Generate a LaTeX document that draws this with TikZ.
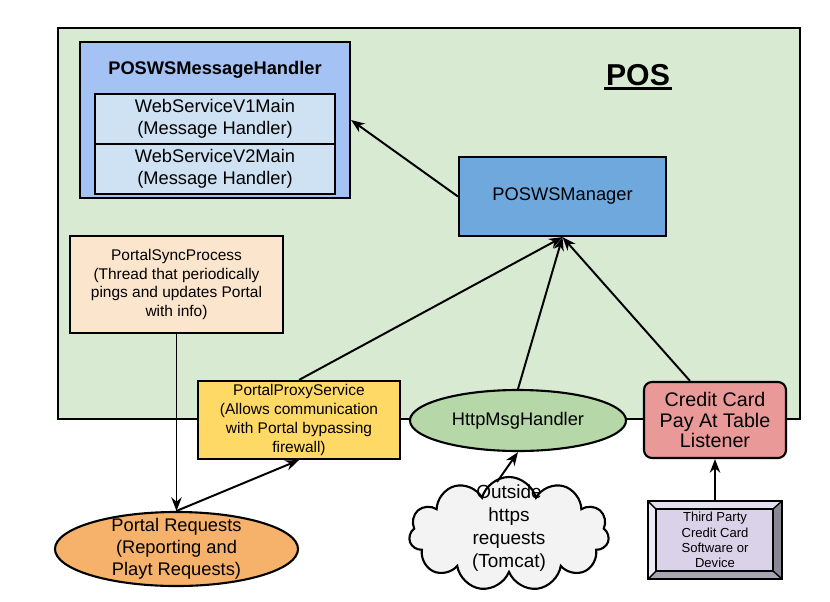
\documentclass[tikz,border=0pt]{standalone}
\usepackage{fontspec}
\setmainfont{Liberation Sans}
\usetikzlibrary{shapes.geometric, shapes.symbols, arrows.meta, positioning, calc}

\definecolor{posgreen}{HTML}{D9EAD3}
\definecolor{msgblue}{HTML}{A4C2F4}
\definecolor{innerblue}{HTML}{CFE2F3}
\definecolor{mgrblue}{HTML}{6FA8DC}
\definecolor{syncpeach}{HTML}{FCE5CD}
\definecolor{proxyyellow}{HTML}{FFD966}
\definecolor{httpgreen}{HTML}{B6D7A8}
\definecolor{ccred}{HTML}{EA9999}
\definecolor{reqorange}{HTML}{F6B26B}
\definecolor{cloudgray}{HTML}{F3F3F3}
\definecolor{thirdlav}{HTML}{D9D2E9}
\definecolor{bevtop}{HTML}{E4E0EF}
\definecolor{bevleft}{HTML}{ECEAF2}
\definecolor{bevright}{HTML}{8A8794}
\definecolor{bevbottom}{HTML}{A8A5B3}

\tikzset{
  box/.style={draw, line width=1.5pt, align=center, inner sep=1pt},
  conn/.style={-{Stealth[length=0.34cm, width=0.26cm]}, line width=1.4pt},
  txt/.style={align=center, font=\fontsize{13}{15.6}\selectfont},
  smalltxt/.style={align=center, font=\fontsize{11}{13.4}\selectfont},
}

\begin{document}
\begin{tikzpicture}[x=0.025cm, y=-0.025cm]
\useasboundingbox (0,0) rectangle (830,601);

\draw [line width=1.6pt, fill=posgreen] (58,28) rectangle (800,419);
\node (posl) [inner sep=1pt, font=\fontsize{21.5}{24}\selectfont\bfseries] at (638,75) {POS};
\draw [line width=2pt] ([yshift=-1pt]posl.south west) -- ([yshift=-1pt]posl.south east);

\node (msgh) [box, fill=msgblue, minimum width=6.75cm, minimum height=3.9cm] at (215,120) {};
\node (msghtitle) [txt, font=\fontsize{13}{15.6}\selectfont\bfseries] at (215,70) {POSWSMessageHandler};
\node (v1) [box, txt, fill=innerblue, minimum width=6cm, minimum height=1.25cm, inner sep=1pt] at (215,119) {WebServiceV1Main\\(Message Handler)};
\node (v2) [box, txt, fill=innerblue, minimum width=6cm, minimum height=1.25cm, inner sep=1pt] at (215,169) {WebServiceV2Main\\(Message Handler)};

\node (mgr) [box, txt, fill=mgrblue, minimum width=5.175cm, minimum height=1.975cm] at (562.5,196.5) {POSWSManager};

\node (sync) [box, smalltxt, fill=syncpeach, minimum width=5.325cm, minimum height=2.425cm] at (176.5,284.5) {PortalSyncProcess\\(Thread that periodically\\pings and updates Portal\\with info)};

\node (proxy) [box, smalltxt, fill=proxyyellow, minimum width=5.05cm, minimum height=1.95cm] at (299,420) {PortalProxyService\\(Allows communication\\with Portal bypassing\\firewall)};

\node (http) [ellipse, draw, line width=1.5pt, fill=httpgreen, minimum width=5.4cm, minimum height=1.525cm] at (518,420.5) {};
\node (httptext) [txt] at (http) {HttpMsgHandler};

\node (cc) [box, fill=ccred, rounded corners=0.2cm, minimum width=3.55cm, minimum height=1.9cm, font=\fontsize{14}{14.9}\selectfont] at (715,420) {Credit Card\\Pay At Table\\Listener};

\node (req) [ellipse, draw, line width=1.5pt, fill=reqorange, minimum width=6.075cm, minimum height=1.85cm] at (176.5,549) {};
\node (reqtext) [txt, font=\fontsize{13}{15.6}\selectfont] at (req) {Portal Requests\\(Reporting and\\Playt Requests)};

\node (cloud) [cloud, cloud puffs=11, cloud ignores aspect, draw, line width=1.5pt, fill=cloudgray, minimum width=5cm, minimum height=2.85cm] at (509,534) {};
\node (cloudtext) [txt, font=\fontsize{13.5}{16.3}\selectfont] at (509,528) {Outside\\https\\requests\\(Tomcat)};

\node (third) [draw, line width=1.5pt, fill=thirdlav, minimum width=3.3cm, minimum height=1.9cm, align=center, font=\fontsize{9.3}{10.8}\selectfont] at (715,540) {Third Party\\Credit Card\\Software or\\Device};
\fill [bevtop] (third.north west) -- (third.north east) -- ($(third.north east)+(-9,8)$) -- ($(third.north west)+(8,8)$) -- cycle;
\fill [bevleft] (third.north west) -- ($(third.north west)+(8,8)$) -- ($(third.south west)+(8,-8)$) -- (third.south west) -- cycle;
\fill [bevright] (third.north east) -- (third.south east) -- ($(third.south east)+(-9,-8)$) -- ($(third.north east)+(-9,8)$) -- cycle;
\fill [bevbottom] (third.south west) -- ($(third.south west)+(8,-8)$) -- ($(third.south east)+(-9,-8)$) -- (third.south east) -- cycle;
\draw [line width=1.5pt] (third.north west) rectangle (third.south east);
\draw [line width=1.5pt] ($(third.north west)+(8,8)$) rectangle ($(third.south east)+(-9,-8)$);
\draw [line width=1pt] (third.north west) -- ($(third.north west)+(8,8)$);
\draw [line width=1pt] (third.north east) -- ($(third.north east)+(-9,8)$);
\draw [line width=1pt] (third.south west) -- ($(third.south west)+(8,-8)$);
\draw [line width=1pt] (third.south east) -- ($(third.south east)+(-9,-8)$);

\draw [conn] (mgr.west) -- (msgh.east);
\draw [conn] (sync.south) -- (req.north);
\draw [conn] (req.north) -- (proxy.south);
\draw [conn] (proxy.north) -- (mgr.south);
\draw [conn] (http.north) -- (mgr.south);
\draw [conn] ($(cc.north)+(-25,0)$) -- (mgr.south);
\draw [conn] ($(cloud.north)+(-12,6)$) -- (http.south);
\draw [conn] (third.north) -- (cc.south);
\end{tikzpicture}
\end{document}
